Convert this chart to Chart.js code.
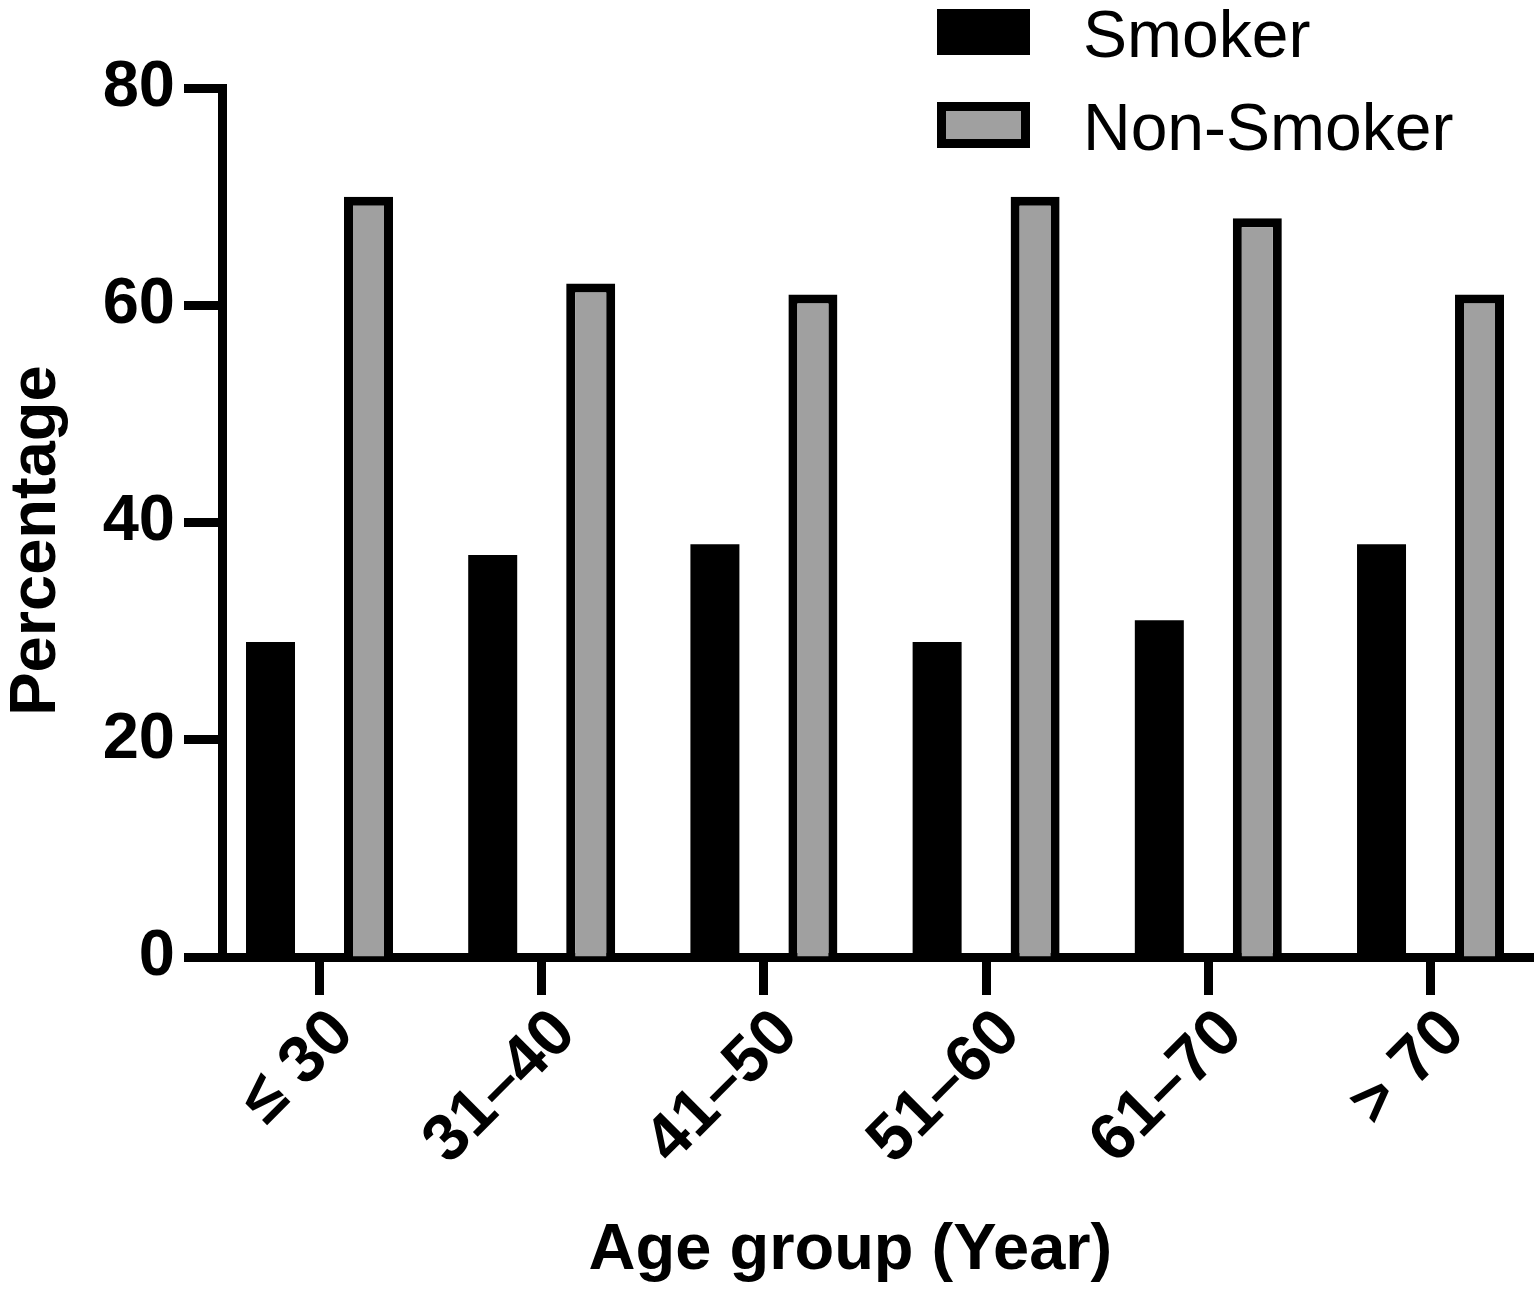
<!DOCTYPE html>
<html lang="en">
<head>
<meta charset="UTF-8">
<title>Smoker / Non-Smoker by age group</title>
<script src="https://cdn.jsdelivr.net/npm/chart.js"></script>
<style>
  body { margin: 0; background: #fff; }
  canvas { display: block; }
</style>
</head>
<body>
<canvas id="chart" width="1535" height="1298"></canvas>
<script>
const ageGroups = ['≤ 30', '31–40', '41–50', '51–60', '61–70', '> 70'];
const smoker = [29, 37, 38, 29, 31, 38];
const nonSmoker = [70, 62, 61, 70, 68, 61];
const yTicks = [0, 20, 40, 60, 80];

const FONT = '"Liberation Sans", Arial, sans-serif';

// legend in the top right corner, drawn over the plot margin
const cornerLegend = {
    id: 'cornerLegend',
    afterDraw(chart) {
        const ctx = chart.ctx;
        const tops = [9, 102];
        ctx.save();
        chart.data.datasets.forEach((ds, i) => {
            const top = tops[i];
            const bw = ds.borderWidth || 0;
            ctx.fillStyle = bw ? ds.borderColor : ds.backgroundColor;
            ctx.fillRect(937, top, 93, 46);
            if (bw) {
                ctx.fillStyle = ds.backgroundColor;
                ctx.fillRect(937 + bw, top + bw, 93 - 2 * bw, 46 - 2 * bw);
            }
            ctx.fillStyle = '#000';
            ctx.font = '66px ' + FONT;
            ctx.textBaseline = 'alphabetic';
            ctx.textAlign = 'left';
            ctx.fillText(ds.label, 1083, top + 48);
        });
        ctx.restore();
    }
};

new Chart(document.getElementById('chart'), {
    type: 'bar',
    data: {
        datasets: [{
            label: 'Smoker',
            data: ageGroups.map((g, i) => ({x: i, y: smoker[i]})),
            backgroundColor: '#000000',
            borderWidth: 0
        }, {
            label: 'Non-Smoker',
            data: ageGroups.map((g, i) => ({x: i, y: nonSmoker[i]})),
            backgroundColor: '#a0a0a0',
            borderColor: '#000000',
            borderWidth: 9
        }]
    },
    options: {
        responsive: false,
        animation: false,
        categoryPercentage: 0.882,
        barPercentage: 0.5,
        layout: { padding: { top: 88, right: 2, left: 0, bottom: 0 } },
        plugins: {
            legend: { display: false },
            tooltip: { enabled: false }
        },
        scales: {
            x: {
                type: 'linear',
                bounds: 'data',
                offset: false,
                min: -0.4388,
                max: 5.4612,
                afterBuildTicks: s => { s.ticks = ageGroups.map((g, i) => ({value: i})); },
                grid: {
                    offset: false,
                    drawOnChartArea: false,
                    tickLength: 38,
                    tickWidth: 9,
                    tickColor: '#000'
                },
                border: { display: true, width: 9, color: '#000' },
                ticks: {
                    autoSkip: false,
                    minRotation: 45,
                    maxRotation: 45,
                    padding: 0,
                    labelOffset: 24,
                    color: '#000',
                    font: { family: FONT, size: 66, weight: 'bold' },
                    callback: (v, i) => ageGroups[i]
                },
                title: {
                    display: true,
                    text: 'Age group (Year)   ',
                    color: '#000',
                    font: { family: FONT, size: 65, weight: 'bold', lineHeight: 1.15 },
                    padding: { top: 0, bottom: 10 }
                },
                afterFit: s => { s.height = 341; }
            },
            y: {
                min: 0,
                max: 80,
                grid: {
                    drawOnChartArea: false,
                    tickLength: 38,
                    tickWidth: 9,
                    tickColor: '#000'
                },
                border: { display: true, width: 9, color: '#000' },
                afterBuildTicks: s => { s.ticks = yTicks.map(v => ({value: v})); },
                ticks: {
                    padding: 9,
                    color: '#000',
                    font: { family: FONT, size: 65, weight: 'bold' }
                },
                title: {
                    display: true,
                    text: 'Percentage  ',
                    color: '#000',
                    font: { family: FONT, size: 65, weight: 'bold', lineHeight: 1.15 },
                    padding: { top: 0, bottom: 0 }
                },
                afterFit: s => { s.width = 222; }
            }
        }
    },
    plugins: [cornerLegend]
});
</script>
</body>
</html>
